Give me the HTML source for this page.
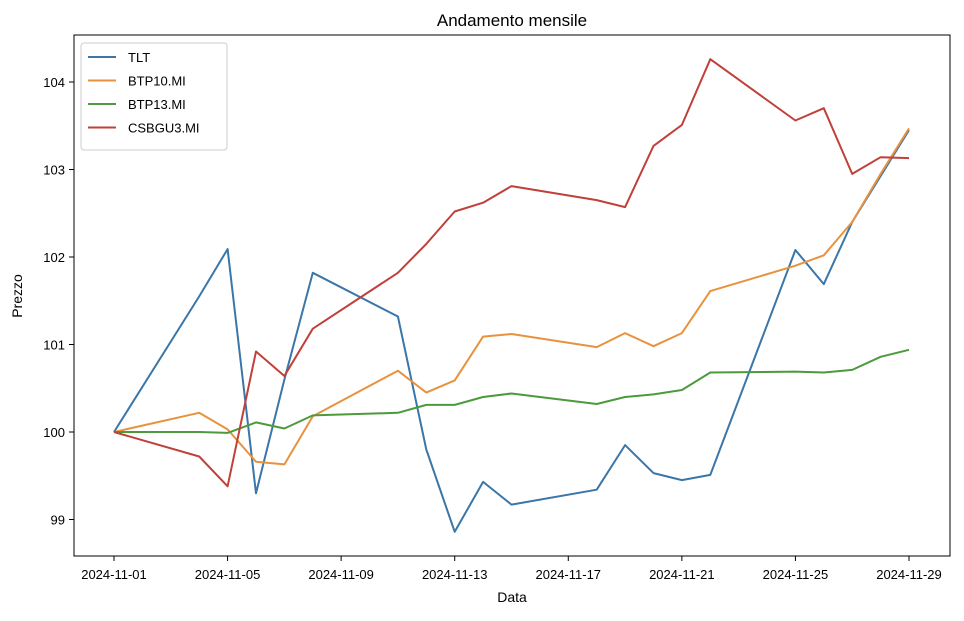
<!DOCTYPE html>
<html><head><meta charset="utf-8"><style>
body{margin:0;background:#fff;font-family:"Liberation Sans","DejaVu Sans",sans-serif;}
svg text{font-family:"Liberation Sans","DejaVu Sans",sans-serif;fill:#000;}
</style></head><body>
<svg id="chart" width="964" height="616" xmlns="http://www.w3.org/2000/svg">
<text x="512" y="26" font-size="17" text-anchor="middle">Andamento mensile</text>
<rect x="74" y="35" width="876" height="521" fill="none" stroke="#000" stroke-width="1"/>
<g id="axes"></g><g id="series"></g><g id="legend"></g>
<text x="512" y="602" font-size="14" text-anchor="middle">Data</text>
<text transform="translate(22,296) rotate(-90)" font-size="14" text-anchor="middle">Prezzo</text>
</svg>
<script>
const days = [1,4,5,6,7,8,11,12,13,14,15,18,19,20,21,22,25,26,27,28,29];
const seriesNames = ["TLT","BTP10.MI","BTP13.MI","CSBGU3.MI"];
const seriesColors = ["#3a76a8","#e8923e","#4c9a3c","#c0403a"];
const tlt = [100,101.55,102.09,99.3,100.6,101.82,101.32,99.8,98.86,99.43,99.17,99.34,99.85,99.53,99.45,99.51,102.08,101.69,102.4,null,103.45];
const btp10 = [100,100.22,100.03,99.66,99.63,100.18,100.70,100.45,100.59,101.09,101.12,100.97,101.13,100.98,101.13,101.61,101.90,102.02,102.40,102.95,103.47];
const btp13 = [100,100.0,99.99,100.11,100.04,100.19,100.22,100.31,100.31,100.40,100.44,100.32,100.40,100.43,100.48,100.68,100.69,100.68,100.71,100.86,100.94];
const csbgu3 = [100,99.72,99.38,100.92,100.64,101.18,101.82,102.15,102.52,102.62,102.81,102.65,102.57,103.27,103.51,104.26,103.56,103.70,102.95,103.14,103.13];
const xTickDays = [1,5,9,13,17,21,25,29];
const xTickLabels = ["2024-11-01","2024-11-05","2024-11-09","2024-11-13","2024-11-17","2024-11-21","2024-11-25","2024-11-29"];
const yTicks = [99,100,101,102,103,104];
const allSeries = [tlt,btp10,btp13,csbgu3];
const NS="http://www.w3.org/2000/svg";
function xs(d){return 114+(d-1)*(909-114)/28;}
function ys(v){return 432-(v-100)*87.5;}
const axes=document.getElementById('axes');
function mk(tag,attrs,parent){const e=document.createElementNS(NS,tag);for(const k in attrs)e.setAttribute(k,attrs[k]);parent.appendChild(e);return e;}
xTickDays.forEach((d,i)=>{
  const l=mk('line',{x1:xs(d),x2:xs(d),y1:556,y2:561,stroke:'#000'},axes);
  
  
  const t=mk('text',{x:xs(d),y:579,'font-size':13,'text-anchor':'middle'},axes);t.textContent=xTickLabels[i];
  
  
});
yTicks.forEach(v=>{
  const l=mk('line',{x1:69,x2:74,y1:ys(v),y2:ys(v),stroke:'#000'},axes);
  
  
  const t=mk('text',{x:65,y:ys(v)+5,'font-size':13,'text-anchor':'end'},axes);t.textContent=v;
  
  
});
const sg=document.getElementById('series');
allSeries.forEach((s,i)=>{
  const pts=[];s.forEach((v,j)=>{if(v!==null)pts.push(xs(days[j]).toFixed(1)+','+ys(v).toFixed(1));});
  const p=mk('polyline',{points:pts.join(' '),fill:'none',stroke:seriesColors[i],'stroke-width':2,'stroke-linejoin':'round'},sg);
  
  
});
const lg=document.getElementById('legend');
const box=mk('rect',{x:81,y:43,width:146,height:107,rx:3,fill:'#fff',stroke:'#ccc','fill-opacity':0.8},lg);


seriesNames.forEach((n,i)=>{
  const y=57+i*23.5;
  const l=mk('line',{x1:88,x2:116,y1:y,y2:y,stroke:seriesColors[i],'stroke-width':2},lg);
  
  
  const t=mk('text',{x:128,y:y+5,'font-size':13},lg);t.textContent=n;
  
  
});
</script>
</body></html>
